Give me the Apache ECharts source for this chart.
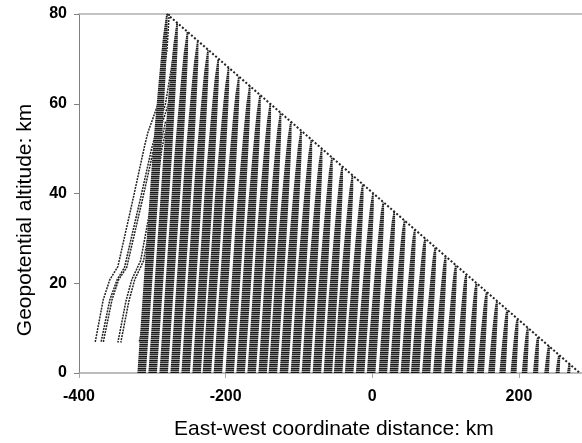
<!DOCTYPE html>
<html>
<head>
<meta charset="utf-8">
<script src="https://cdn.jsdelivr.net/npm/echarts@6/dist/echarts.min.js"></script>
<style>html,body{margin:0;padding:0;background:#fff}#c{width:582px;height:443px}</style>
</head>
<body>
<div id="c"></div>
<script>
// Fall trajectories released along the entry path (start on the diagonal)
const startX = [-280,-266,-252,-238,-224,-210,-196,-182,-167,-153,-139,-125,-111,-97,-83,-69,-55,-41,-27,-13,1,15,30,44,58,72,86,100,114,128,142,156,170,184,198,212,226,241,255,269];
const startZ = [80,78,76,74,72,70,68,66,64,62,60,58,56,54,52,50,48,46,44,42,40,38,36,34,32,30,28,26,24,22,20,18,16,14,12,10,8,6,4,2];
const endX   = [-314,-299,-284,-269,-254,-239,-225,-210,-194,-179,-164,-149,-135,-120,-105,-90,-75,-60,-46,-31,-16,-1,15,30,45,59,74,89,104,119,134,148,163,178,193,208,223,238,253,268];
// Entry path (diagonal envelope)
const pathX = [-280, 283];
const pathZ = [80, 0];
// Thin trajectories drifting far west
const thinA = [[-277,80],[-280,72],[-290,61],[-306,53.6],[-310,51],[-326,39],[-347,23.7],[-358,20.8],[-367,16.3],[-378,6.8]];
const thinB = [[-266,78],[-272,70],[-282,60],[-296,53],[-301,50],[-316,39],[-338,23.5],[-348,20.8],[-358,16.3],[-370,6.8]];
const thinC = [[-270,72],[-278,60],[-292,53],[-298,50],[-313,39],[-335,23.5],[-346,20.8],[-355,16.3],[-367,6.8]];
const thinD = [[-282,56],[-290,50],[-300,39],[-316,25],[-328,20.8],[-336,16],[-347,6.8]];
const thinE = [[-279,56],[-287,50],[-296,39],[-312,25],[-324,20.8],[-332,16],[-343,6.8]];
const thinF = [[-296,40],[-300,30],[-306,20],[-311,12],[-318,6.8]];
// Axis ticks
const xTicks = [-400, -200, 0, 200];
const yTicks = [0, 20, 40, 60, 80];

// horizontal stripe pattern (dense dash markers)
const pat = document.createElement('canvas');
pat.width = 4; pat.height = 4;
(function () {
  const g = pat.getContext('2d');
  const rows = ['#151515', '#6e6e6e', '#2c2c2c', '#a2a2a2'];
  rows.forEach(function (c, i) { g.fillStyle = c; g.fillRect(0, i, 4, 1); });
})();
const stripe = { image: pat, repeat: 'repeat' };

const colData = startX.map(function (x, i) { return [x, startZ[i], endX[i]]; });

const series = [];
[thinA, thinB, thinC, thinD, thinE, thinF].forEach(function (t) {
  series.push({
    type: 'line', silent: true, showSymbol: false, animation: false,
    data: t, z: 2,
    lineStyle: { color: '#222', width: 1.5, type: [2, 1] }
  });
});
series.push({
  type: 'custom', silent: true, animation: false, z: 3,
  data: colData,
  renderItem: function (params, api) {
    const p0 = api.coord([api.value(0), api.value(1)]);
    const p1 = api.coord([api.value(2), 0]);
    const L = p1[1] - p0[1];
    const N = 16, left = [], right = [];
    for (let s = 0; s <= N; s++) {
      const t = s / N;
      const x = p0[0] + (p1[0] - p0[0]) * t, y = p0[1] + L * t;
      const w = 1.5 + 7 * Math.min(1, Math.sqrt((L * t) / 130));
      left.push([x - 0.55 * w, y]);
      right.push([x + 0.45 * w, y]);
    }
    const pts = left.concat(right.reverse());
    return { type: 'polygon', shape: { points: pts }, style: { fill: stripe } };
  }
});
series.push({
  type: 'line', silent: true, showSymbol: false, animation: false, z: 4,
  data: [[pathX[0], pathZ[0]], [pathX[1], pathZ[1]]],
  lineStyle: { color: '#222', width: 2, type: [2, 2] }
});

const chart = echarts.init(document.getElementById('c'), null, { renderer: 'canvas' });
chart.setOption({
  animation: false,
  backgroundColor: '#fff',
  grid: { left: 79, top: 14, right: 0, bottom: 70, containLabel: false },
  xAxis: [{
    type: 'value', min: -400, max: 286, interval: 200,
    axisLine: { show: true, onZero: false, lineStyle: { color: '#a6a6a6', width: 1.5 } },
    axisTick: { show: true, length: 5, lineStyle: { color: '#a6a6a6' } },
    axisLabel: {
      showMaxLabel: false, margin: 16, color: '#000',
      fontFamily: 'Liberation Sans', fontWeight: 'bold', fontSize: 16,
      formatter: function (v) { return xTicks.indexOf(v) >= 0 ? String(v) : ''; }
    },
    splitLine: { show: false }
  }, {
    type: 'value', position: 'top', min: -400, max: 286,
    axisLine: { show: true, onZero: false, lineStyle: { color: '#b0b0b0', width: 1.5 } },
    axisTick: { show: false }, axisLabel: { show: false }, splitLine: { show: false }
  }],
  yAxis: {
    type: 'value', min: 0, max: 80, interval: 20,
    axisLine: { show: true, onZero: false, lineStyle: { color: '#808080', width: 1 } },
    axisTick: { show: true, length: 5, lineStyle: { color: '#808080' } },
    axisLabel: {
      margin: 12, color: '#000',
      fontFamily: 'Liberation Sans', fontWeight: 'bold', fontSize: 16,
      formatter: function (v) { return yTicks.indexOf(v) >= 0 ? String(v) : ''; }
    },
    splitLine: { show: false }
  },
  graphic: [{
    type: 'text', left: 174, top: 419,
    style: { text: 'East-west coordinate distance: km', font: '21px "Liberation Sans"', fill: '#000' }
  }, {
    type: 'text', x: 25, y: 220, rotation: Math.PI / 2,
    style: { text: 'Geopotential altitude: km', font: '21px "Liberation Sans"', fill: '#000',
      textAlign: 'center', textVerticalAlign: 'middle', align: 'center', verticalAlign: 'middle' }
  }],
  series: series
});
</script>
</body>
</html>
